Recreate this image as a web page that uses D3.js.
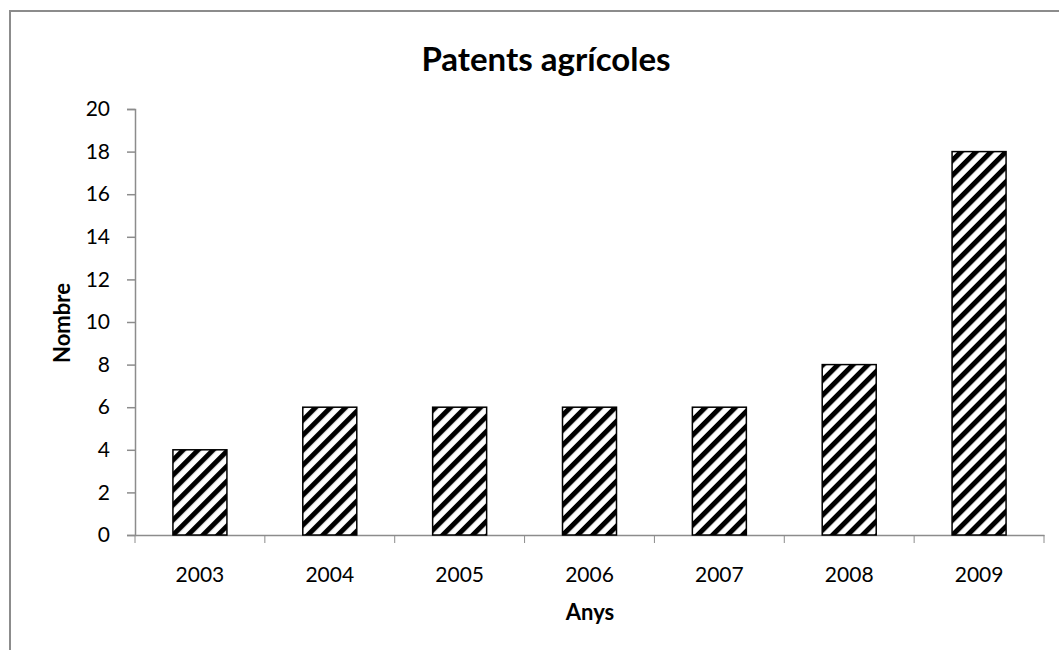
<!doctype html>
<html>
<head>
<meta charset="utf-8">
<style>
  body { margin: 0; background: #fff; }
  text { font-family: Lato, "Open Sans", sans-serif; fill: #000; }
</style>
<script src="https://d3js.org/d3.v7.min.js"></script>
</head>
<body>
<svg width="1059" height="650"></svg>
<script>
var years = ["2003", "2004", "2005", "2006", "2007", "2008", "2009"];
var patents = [4, 6, 6, 6, 6, 8, 18];
var yTicks = [0, 2, 4, 6, 8, 10, 12, 14, 16, 18, 20];

var svg = d3.select("svg");

// chart frame
svg.append("rect")
   .attr("x", 10).attr("y", 11)
   .attr("width", 1080).attr("height", 660)
   .attr("fill", "none")
   .attr("stroke", "#8c8c8c")
   .attr("stroke-width", 2);

// hatch pattern
var pat = svg.append("defs").append("pattern")
   .attr("id", "hatch")
   .attr("patternUnits", "userSpaceOnUse")
   .attr("width", 10.6).attr("height", 10.6)
   .attr("patternTransform", "rotate(45)");
pat.append("rect").attr("width", 10.6).attr("height", 10.6).attr("fill", "#fff");
pat.append("rect").attr("x", 0).attr("width", 5).attr("height", 10.6).attr("fill", "#000");

var plotLeft = 135, plotRight = 1044, plotTop = 109, plotBottom = 535;

var x = d3.scaleBand().domain(years).range([plotLeft, plotRight]).padding(0);
var y = d3.scaleLinear().domain([0, 20]).range([plotBottom, plotTop]);

svg.append("text")
   .attr("x", 546).attr("y", 71)
   .attr("text-anchor", "middle")
   .attr("font-size", "33px")
   .attr("font-weight", "bold")
   .text("Patents agrícoles");

// y axis
var ya = svg.append("g")
   .attr("transform", "translate(" + plotLeft + ",0)")
   .call(d3.axisLeft(y).tickValues(yTicks).tickSize(8).tickPadding(17));
ya.selectAll("text").attr("font-size", "21px").attr("font-family", "Lato, sans-serif");

// x axis
var xa = svg.append("g")
   .attr("transform", "translate(0," + plotBottom + ")")
   .call(d3.axisBottom(x).tickSize(0).tickPadding(32));
xa.selectAll("text").attr("font-size", "21px").attr("font-family", "Lato, sans-serif");
xa.selectAll(".bound")
  .data(years.concat(["end"]))
  .enter().append("line")
  .attr("x1", function(d, i) { return plotLeft + i * x.bandwidth(); })
  .attr("x2", function(d, i) { return plotLeft + i * x.bandwidth(); })
  .attr("y1", 0).attr("y2", 8)
  .attr("stroke", "#8c8c8c");

svg.selectAll(".domain, .tick line").attr("stroke", "#8c8c8c").attr("stroke-width", 1.5);

// bars
var bw = 54;
svg.selectAll(".bar")
   .data(patents)
   .enter().append("rect")
   .attr("class", "bar")
   .attr("x", function(d, i) { return x(years[i]) + x.bandwidth() / 2 - bw / 2; })
   .attr("y", function(d) { return y(d); })
   .attr("width", bw)
   .attr("height", function(d) { return plotBottom - y(d); })
   .attr("fill", "url(#hatch)")
   .attr("stroke", "#000")
   .attr("stroke-width", 1.5);

svg.append("text")
   .attr("x", 590).attr("y", 620)
   .attr("text-anchor", "middle")
   .attr("font-size", "22px")
   .attr("font-weight", "bold")
   .text("Anys");

svg.append("text")
   .attr("transform", "translate(70,323) rotate(-90)")
   .attr("text-anchor", "middle")
   .attr("font-size", "22px")
   .attr("font-weight", "bold")
   .text("Nombre");
</script>
</body>
</html>
